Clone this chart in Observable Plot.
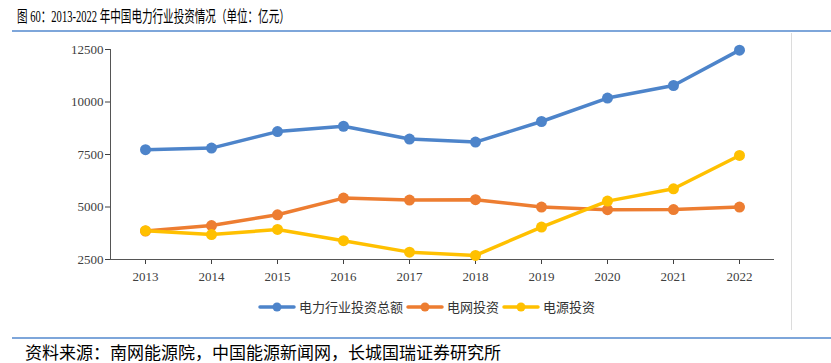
<!DOCTYPE html>
<html><head><meta charset="utf-8">
<script src="https://cdn.jsdelivr.net/npm/d3@7"></script>
<script src="https://cdn.jsdelivr.net/npm/@observablehq/plot@0.6"></script>
<style>
body{margin:0;background:#fff;width:831px;height:363px;overflow:hidden;position:relative;font-family:"Noto Sans CJK SC",sans-serif;}
#title{position:absolute;left:17px;top:6px;font-size:16px;line-height:22px;color:#000;white-space:nowrap;transform:scaleX(0.66);transform-origin:left center;font-family:"Liberation Serif","Noto Sans CJK SC",serif;}
.rule{position:absolute;left:12px;right:0;height:1.5px;background:#7EA6DA;}
#vline{position:absolute;left:791px;top:33px;width:1px;height:297px;background:#dcdcdc;}
#chart{position:absolute;left:0;top:35px;}
#legend{position:absolute;left:258px;top:297px;display:flex;align-items:center;font-size:13px;color:#333;white-space:nowrap;}
#legend .item{display:flex;align-items:center;margin-right:3px;}
#legend svg{margin-right:3px;}
#source{position:absolute;left:25px;top:341px;font-size:17px;line-height:22px;color:#000;white-space:nowrap;}
</style></head><body>
<div id="title">图 60：2013-2022 年中国电力行业投资情况（单位：亿元）</div>
<div class="rule" style="top:30px"></div>
<div id="vline"></div>
<div id="chart"></div>
<div id="legend"></div>
<div class="rule" style="top:337px"></div>
<div id="source">资料来源：南网能源院，中国能源新闻网，长城国瑞证券研究所</div>
<script>
const years = ["2013","2014","2015","2016","2017","2018","2019","2020","2021","2022"];
const total = [7728, 7805, 8590, 8845, 8235, 8090, 9071, 10189, 10786, 12470];
const grid = [3856, 4118, 4630, 5425, 5330, 5350, 4995, 4870, 4880, 4995];
const source = [3872, 3686, 3930, 3395, 2850, 2695, 4045, 5280, 5867, 7455];
const seriesNames = ["电力行业投资总额", "电网投资", "电源投资"];
const colors = ["#4D84CA", "#ED7D31", "#FFC000"];
const yTicks = [2500, 5000, 7500, 10000, 12500];

const seriesValues = [total, grid, source];
const data = [];
seriesNames.forEach((name, i) => {
  years.forEach((yr, j) => data.push({series: name, year: yr, value: seriesValues[i][j]}));
});

const chart = Plot.plot({
  width: 831,
  height: 260,
  marginLeft: 110,
  marginRight: 58,
  marginTop: 14,
  marginBottom: 36,
  x: {type: "point", domain: years, padding: 0.5},
  y: {domain: [2500, 12500]},
  color: {domain: seriesNames, range: colors},
  style: {fontFamily: "Liberation Serif, serif", fontSize: "13px", color: "#404040", background: "transparent"},
  marks: [
    Plot.axisY({ticks: yTicks, tickSize: 5, tickPadding: 2, label: null, tickFormat: d => String(d), fontSize: 13}),
    Plot.axisX({tickSize: 5, tickPadding: 7, label: null, fontSize: 13}),
    Plot.frame({anchor: "left", stroke: "#555"}),
    Plot.frame({anchor: "bottom", stroke: "#555"}),
    Plot.line(data, {x: "year", y: "value", z: "series", stroke: "series", strokeWidth: 3.5, strokeLinejoin: "round", strokeLinecap: "round"}),
    Plot.dot(data, {x: "year", y: "value", fill: "series", r: 5.5, stroke: "none"})
  ]
});
document.getElementById("chart").appendChild(chart);

const legend = document.getElementById("legend");
seriesNames.forEach((name, i) => {
  const item = document.createElement("div");
  item.className = "item";
  item.innerHTML = `<svg width="38" height="12"><line x1="2" y1="6" x2="36" y2="6" stroke="${colors[i]}" stroke-width="3.5" stroke-linecap="round"/><circle cx="19" cy="6" r="4.5" fill="${colors[i]}"/></svg><span>${name}</span>`;
  legend.appendChild(item);
});
</script>
</body></html>
